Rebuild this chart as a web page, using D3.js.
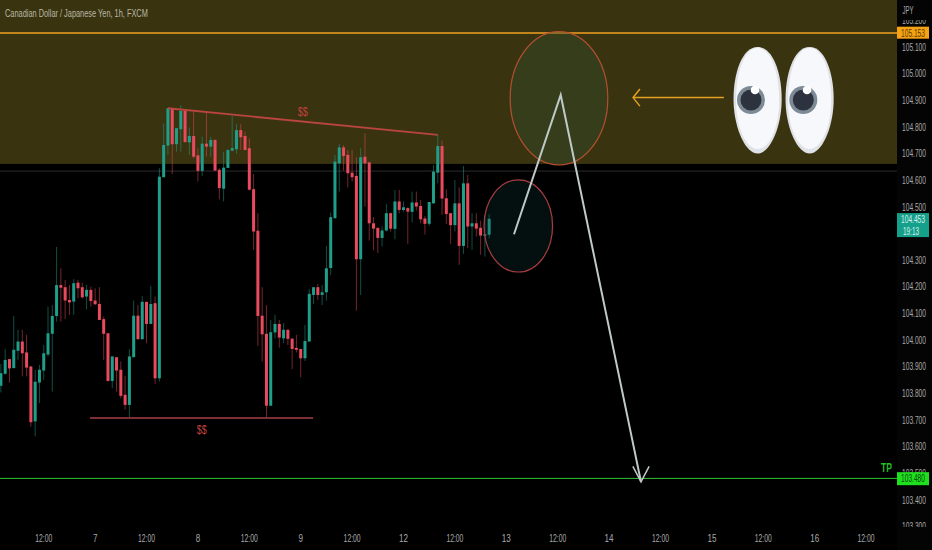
<!DOCTYPE html>
<html><head><meta charset="utf-8">
<script src="https://cdn.jsdelivr.net/npm/d3@7/dist/d3.min.js"></script>
<style>html,body{margin:0;padding:0;background:#000;overflow:hidden}svg{display:block}
text{font-family:"Liberation Sans",Arial,sans-serif}</style>
</head><body><svg id="c" width="932" height="550"></svg>
<script>
const open=[103.828,103.873,103.928,103.894,103.959,103.994,103.953,103.900,103.694,103.840,103.885,103.945,104.023,104.090,104.206,104.198,104.150,104.144,104.215,104.198,104.163,104.188,104.148,104.135,104.078,104.025,103.846,103.935,103.888,103.794,103.756,103.935,104.091,104.003,104.143,104.060,104.138,103.856,
104.611,104.730,104.870,104.735,104.791,104.860,104.742,104.766,104.693,104.635,104.737,104.726,104.751,104.639,104.568,104.646,104.711,104.716,104.788,104.766,104.720,104.566,104.410,104.091,104.023,103.753,104.028,104.060,104.006,104.038,104.005,103.970,103.966,103.931,103.994,104.169,104.198,104.169,104.179,104.270,
104.457,104.663,104.723,104.695,104.628,104.616,104.303,104.688,104.667,104.438,104.421,104.383,104.411,104.476,104.417,104.520,104.488,104.495,104.481,104.516,104.503,104.456,104.436,104.513,104.628,104.728,104.532,104.476,104.431,104.513,104.353,104.588,104.426,104.438,104.421,104.391,104.395];
const high=[103.910,103.965,103.928,104.090,104.038,104.038,104.019,103.903,103.888,103.906,103.981,104.125,104.131,104.349,104.269,104.225,104.206,104.228,104.225,104.215,104.206,104.200,104.194,104.198,104.088,104.025,103.938,103.935,103.919,103.865,103.965,104.148,104.131,104.165,104.143,104.203,104.163,104.645,
104.813,104.870,104.870,104.795,104.882,104.863,104.798,104.857,104.720,104.763,104.857,104.763,104.753,104.645,104.707,104.716,104.841,104.811,104.811,104.782,104.757,104.623,104.476,104.198,104.131,104.075,104.094,104.075,104.063,104.040,104.005,104.019,103.966,104.056,104.190,104.198,104.210,104.206,104.353,104.478,
104.695,104.736,104.732,104.713,104.713,104.686,104.720,104.776,104.667,104.461,104.421,104.426,104.511,104.478,104.563,104.563,104.520,104.498,104.557,104.557,104.526,104.466,104.518,104.657,104.770,104.748,104.566,104.476,104.601,104.573,104.653,104.620,104.476,104.476,104.448,104.470,104.472];
const low=[103.803,103.869,103.840,103.894,103.925,103.863,103.863,103.675,103.638,103.763,103.850,103.938,103.806,104.069,104.069,104.078,104.094,104.094,104.156,104.156,104.115,104.125,104.131,104.075,103.925,103.844,103.819,103.806,103.781,103.738,103.710,103.935,104.000,104.000,103.988,104.060,103.835,103.844,
104.611,104.695,104.623,104.707,104.707,104.741,104.695,104.682,104.595,104.616,104.688,104.688,104.636,104.528,104.520,104.645,104.708,104.699,104.713,104.713,104.561,104.338,103.978,103.919,103.710,103.753,104.006,103.971,103.988,103.981,103.890,103.953,103.860,103.921,103.994,104.135,104.150,104.131,104.148,104.244,
104.457,104.557,104.636,104.573,104.595,104.110,104.169,104.501,104.373,104.336,104.326,104.351,104.407,104.407,104.378,104.476,104.482,104.361,104.441,104.486,104.438,104.396,104.428,104.511,104.588,104.470,104.436,104.361,104.407,104.282,104.323,104.345,104.338,104.388,104.320,104.313,104.382];
const close=[103.875,103.925,103.893,103.963,103.994,103.950,103.896,103.691,103.843,103.888,103.950,104.025,104.090,104.206,104.196,104.148,104.141,104.213,104.194,104.160,104.188,104.146,104.134,104.075,104.023,103.846,103.938,103.885,103.790,103.756,103.938,104.091,104.003,104.143,104.060,104.135,103.856,104.613,
104.732,104.870,104.735,104.795,104.860,104.743,104.766,104.688,104.635,104.737,104.726,104.751,104.636,104.570,104.647,104.713,104.720,104.788,104.761,104.713,104.564,104.407,104.090,104.021,103.753,104.029,104.060,104.009,104.038,104.004,103.966,103.963,103.931,103.996,104.173,104.198,104.169,104.179,104.269,104.461,
104.670,104.723,104.691,104.626,104.611,104.303,104.686,104.663,104.438,104.418,104.383,104.411,104.476,104.418,104.520,104.488,104.498,104.482,104.516,104.501,104.453,104.436,104.518,104.632,104.728,104.531,104.473,104.431,104.513,104.353,104.588,104.426,104.438,104.418,104.392,104.397,104.455];

const priceTicks=[105.2,105.1,105.0,104.9,104.8,104.7,104.6,104.5,104.3,104.2,104.1,104.0,103.9,103.8,103.7,103.6,103.5,103.4,103.3];
const clippedTicks=[105.2,103.5,103.3];
const timeHours=[10,22,34,46,58,70,82,94,106,118,130,142,154,166,178,190,202];
const timeLabels=["12:00","7","12:00","8","12:00","9","12:00","12","12:00","13","12:00","14","12:00","15","12:00","16","12:00"];
const zonePrices=[105.276,104.661];
const resistance=105.153, target=103.48, last=104.453, prevClose=104.634;
const topLine=[[39,104.870],[102,104.770]];
const bottomLine=[[20.8,103.707],[72.9,103.707]];
const bigOval=[118.9,141.7,105.158,104.657];
const smallOval=[112.8,128.8,104.601,104.255];
const path1=[[119.8,104.397],[130.7,104.920],[149.45,103.467]];
const leftArrow=[[168.8,104.910],[147.6,104.910]];

const W=932,H=550,plotR=897;
const x=d3.scaleLinear().domain([0,100]).range([0.9,429.2]);
const y=d3.scaleLinear().domain([105.1,103.4]).range([47,499.7]);
const svg=d3.select("#c");
const line=d3.line().x(d=>x(d[0])).y(d=>y(d[1]));
const defs=svg.append("defs");
defs.append("clipPath").attr("id","axTop").append("rect").attr("x",plotR).attr("y",20).attr("width",35).attr("height",507);

svg.append("rect").attr("width",W).attr("height",H).attr("fill","#000");
svg.append("rect").attr("x",plotR).attr("width",W-plotR).attr("height",H).attr("fill","#040404");
svg.append("rect").attr("x",0).attr("y",0).attr("width",plotR)
  .attr("height",y(zonePrices[1])).attr("fill","#3a330f");
svg.append("line").attr("x1",0).attr("x2",plotR).attr("y1",y(prevClose)).attr("y2",y(prevClose)).attr("stroke","#2b2b2b").attr("stroke-width",1);

const idx=d3.range(open.length);
const G="#1f9f8a",R="#ea4a5e";
const col=i=>close[i]>=open[i]?G:R;
svg.append("g").selectAll("line").data(idx).join("line")
  .attr("x1",i=>x(i)).attr("x2",i=>x(i)).attr("y1",i=>y(high[i])).attr("y2",i=>y(low[i]))
  .attr("stroke",col).attr("stroke-width",1).attr("stroke-opacity",.5);
svg.append("g").selectAll("rect").data(idx).join("rect")
  .attr("x",i=>x(i)-1.5).attr("width",3)
  .attr("y",i=>Math.min(y(open[i]),y(close[i])))
  .attr("height",i=>Math.max(1.5,Math.abs(y(open[i])-y(close[i]))))
  .attr("fill",col);

svg.append("line").attr("x1",0).attr("x2",plotR).attr("y1",y(resistance)).attr("y2",y(resistance)).attr("stroke","#f0a020").attr("stroke-width",1.5);
svg.append("line").attr("x1",0).attr("x2",plotR).attr("y1",y(target)).attr("y2",y(target)).attr("stroke","#2fc42f").attr("stroke-width",1);

svg.append("path").attr("d",line(topLine)).attr("fill","none").attr("stroke","#b8453f").attr("stroke-width",1.8);
svg.append("path").attr("d",line(bottomLine)).attr("fill","none").attr("stroke","#a83f47").attr("stroke-width",1.6);
// condensed text: squeezed horizontally to the reference's width
function cond(t,px,py,w,o={}){
  const wrap=o.clip?svg.append("g").attr("clip-path","url(#axTop)"):svg;
  const s=wrap.append("text").text(t).attr("fill",o.fill||"#aaa").attr("font-size",o.size||11).attr("font-weight",o.weight||"normal");
  if(o.anchor)s.attr("text-anchor",o.anchor);
  const k=w?w/s.node().getComputedTextLength():1;
  s.attr("transform",`translate(${px},${py}) scale(${k},1)`);
  return s;}
cond("$$",x(70.5),y(104.841),10,{fill:"#c2403f",size:13,anchor:"middle"});
cond("$$",x(46.9),y(103.647),10,{fill:"#c2403f",size:13,anchor:"middle"});

function oval(b,fill,stroke){svg.append("ellipse")
  .attr("cx",(x(b[0])+x(b[1]))/2).attr("cy",(y(b[2])+y(b[3]))/2)
  .attr("rx",(x(b[1])-x(b[0]))/2).attr("ry",(y(b[3])-y(b[2]))/2)
  .attr("fill",fill).attr("stroke",stroke).attr("stroke-width",1.2);}
oval(bigOval,"rgba(45,80,50,.36)","#b3502f");
oval(smallOval,"rgba(20,70,70,.22)","#a83c40");

svg.append("path").attr("d",line(path1)).attr("fill","none").attr("stroke","#bfc9c8").attr("stroke-width",2).attr("stroke-linejoin","miter");
const tip=path1[2];
svg.append("path").attr("d",line([[tip[0]-1.9,tip[1]+0.058],tip,[tip[0]+1.9,tip[1]+0.058]])).attr("fill","none").attr("stroke","#bfc9c8").attr("stroke-width",1.5);

const oa=leftArrow[1];
svg.append("path").attr("d",line(leftArrow)).attr("fill","none").attr("stroke","#e3a021").attr("stroke-width",1.5);
svg.append("path").attr("d",line([[oa[0]+1.6,oa[1]+0.032],oa,[oa[0]+1.6,oa[1]-0.032]])).attr("fill","none").attr("stroke","#e3a021").attr("stroke-width",1.5);

function eyePath(c,t,b,r){return `M${c},${t}C${c+r*.68},${t} ${c+r*1.04},${t+29} ${c+r},${t+56}C${c+r*.96},${t+82} ${c+r*.5},${b} ${c},${b}C${c-r*.5},${b} ${c-r*.96},${t+82} ${c-r},${t+56}C${c-r*1.04},${t+29} ${c-r*.68},${t} ${c},${t}Z`;}
[[757.6,751,755],[809.6,803.3,807]].forEach(e=>{
  const g=svg.append("g");
  g.append("path").attr("d",eyePath(e[0],47,153.5,24)).attr("fill","#dfe2e6");
  g.append("path").attr("d",eyePath(e[0],48,149,21.5)).attr("fill","#f6f8fc");
  g.append("circle").attr("cx",e[1]).attr("cy",100).attr("r",14).attr("fill","#7e8b97");
  g.append("circle").attr("cx",e[1]).attr("cy",100).attr("r",10.5).attr("fill","#2c333f");
  g.append("circle").attr("cx",e[2]).attr("cy",90).attr("r",4.3).attr("fill","#fff");
});

cond("Canadian Dollar / Japanese Yen, 1h, FXCM",5,17,143,{fill:"#b9b8a6",size:11.5});
priceTicks.forEach(p=>cond(p.toFixed(3),914,y(p)+3.8,24,{fill:"#a8a8a8",clip:clippedTicks.includes(p),anchor:"middle"}));
cond("JPY",908,13.5,11,{fill:"#a8a8a8",anchor:"middle"});
timeHours.forEach((h,i)=>{const t=timeLabels[i];
  cond(t,x(h),542,t.length>2?17:(t.length>1?9:4.5),{fill:"#a8a8a8",anchor:"middle"});});

function badge(p,h,c,txt,sub){const yy=y(p);
  svg.append("rect").attr("x",897).attr("y",yy-6.2).attr("width",32).attr("height",h).attr("fill",c);
  cond(txt,913,yy+3.8,24,{fill:sub?"#d8f0ea":(c==="#1fe01f"?"#0a4a0a":"#5a3a00"),anchor:"middle"});
  if(sub)cond(sub,911,yy+15.5,16,{fill:"#d8f0ea",anchor:"middle"});}
badge(resistance,12,"#f5a314","105.153");
badge(target,13,"#1fe01f","103.480");
badge(last,24,"#14a08a","104.453","19:13");
cond("TP",886.5,y(target)-6,11,{fill:"#22c022",size:12,weight:"bold",anchor:"middle"});
</script></body></html>
